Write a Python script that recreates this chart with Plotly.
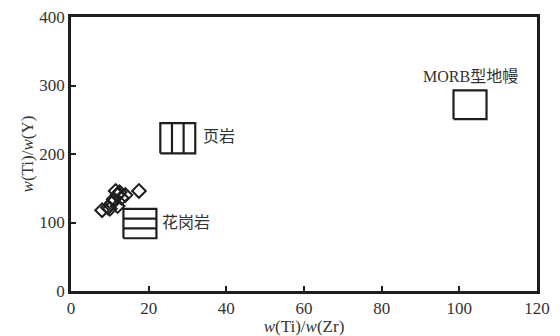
import plotly.graph_objects as go

# Sample points: w(Ti)/w(Zr) vs w(Ti)/w(Y)
ti_zr = [8, 9.5, 10.5, 11, 12, 11.5, 12.5, 13, 14, 12, 10, 17.5]
ti_y = [118, 122, 128, 134, 140, 146, 144, 136, 140, 124, 120, 146]

# Reference fields: [x0, x1, y0, y1]
shale_box = [23, 32, 201, 245]
granite_box = [13.5, 22, 77, 120]
morb_box = [98.5, 107, 251, 293]

field_labels = ["页岩", "花岗岩", "MORB型地幔"]
label_x = [33.5, 23, 103]
label_y = [225, 100, 313]

x_ticks = [0, 20, 40, 60, 80, 100, 120]
y_ticks = [0, 100, 200, 300, 400]

INK = "#1e1e1e"
TEXT = "#333333"
SERIF = "Liberation Serif, Times New Roman, serif"
CJK = "Noto Sans CJK SC"

fig = go.Figure()


def rect(b):
    x0, x1, y0, y1 = b
    return [x0, x1, x1, x0, x0], [y0, y0, y1, y1, y0]


def add_poly(xs, ys):
    fig.add_trace(go.Scatter(x=xs, y=ys, mode="lines",
                             line=dict(color=INK, width=2.2), hoverinfo="skip",
                             showlegend=False))


# shale: box split into three columns
xs, ys = rect(shale_box)
add_poly(xs, ys)
x0, x1, y0, y1 = shale_box
for k in (1, 2):
    xv = x0 + (x1 - x0) * k / 3
    add_poly([xv, xv], [y0, y1])

# granite: box split into three rows
xs, ys = rect(granite_box)
add_poly(xs, ys)
x0, x1, y0, y1 = granite_box
for k in (1, 2):
    yv = y0 + (y1 - y0) * k / 3
    add_poly([x0, x1], [yv, yv])

# MORB mantle: plain box
xs, ys = rect(morb_box)
add_poly(xs, ys)

fig.add_trace(go.Scatter(x=ti_zr, y=ti_y, mode="markers",
                         marker=dict(symbol="diamond-open", size=10.5,
                                     color=INK, line=dict(width=2, color=INK)),
                         showlegend=False))

for t, lx, ly in zip(field_labels, label_x, label_y):
    fig.add_annotation(x=lx, y=ly, text=t, showarrow=False,
                       xanchor="center" if t.startswith("MORB") else "left",
                       font=dict(family=f"{SERIF}, {CJK}", size=16, color=TEXT))

axis_common = dict(showgrid=False, zeroline=False, showline=True,
                   linecolor=INK, linewidth=2.5, mirror=True,
                   ticks="inside", ticklen=5, tickwidth=2, tickcolor=INK,
                   automargin=False,
                   tickfont=dict(family=SERIF, size=17, color=TEXT))

fig.update_xaxes(range=[0, 120], tickvals=x_ticks,
                 title=dict(text="<i>w</i>(Ti)/<i>w</i>(Zr)", standoff=2,
                            font=dict(family=SERIF, size=17, color=TEXT)),
                 **axis_common)
fig.update_yaxes(range=[0, 400], tickvals=y_ticks,
                 title=dict(text="<i>w</i>(Ti)/<i>w</i>(Y)", standoff=2,
                            font=dict(family=SERIF, size=17, color=TEXT)),
                 **axis_common)

fig.update_layout(width=560, height=336,
                  margin=dict(l=71, r=23, t=17, b=45),
                  paper_bgcolor="white", plot_bgcolor="white")

fig.write_html("out.html")
